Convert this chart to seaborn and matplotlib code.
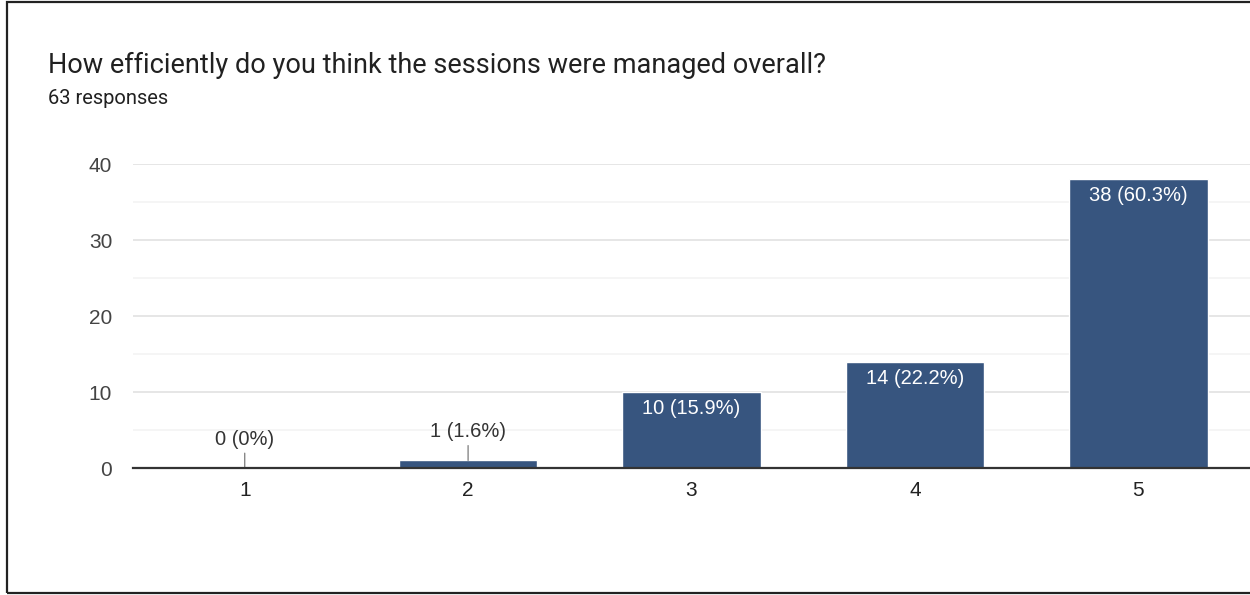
import matplotlib
matplotlib.use('Agg')
import matplotlib.pyplot as plt
import seaborn as sns
import pandas as pd
from matplotlib.patches import Rectangle
from matplotlib.ticker import MultipleLocator

# dados
categorias = ['1', '2', '3', '4', '5']
respostas = [0, 1, 10, 14, 38]
rotulos = ['0 (0%)', '1 (1.6%)', '10 (15.9%)', '14 (22.2%)', '38 (60.3%)']
titulo = 'How efficiently do you think the sessions were managed overall?'
subtitulo = '63 responses'

cor_barra = '#37557f'
cor_texto = '#212121'

sns.set_theme(style='white')
plt.rcParams['font.family'] = ['Liberation Sans', 'DejaVu Sans']

df = pd.DataFrame({'nota': categorias, 'respostas': respostas})

fig = plt.figure(figsize=(12.5, 5.95), dpi=100)
ax = fig.add_axes([133 / 1250, 127 / 595, 1 - 133 / 1250, 304 / 595])

sns.barplot(data=df, x='nota', y='respostas', color=cor_barra, saturation=1,
            width=0.62, ax=ax)

ax.set_xlim(-0.5, 4.5)
ax.set_ylim(0, 40)
ax.yaxis.set_major_locator(MultipleLocator(10))
ax.yaxis.set_minor_locator(MultipleLocator(5))
ax.grid(True, which='major', axis='y', color='#e6e6e6', linewidth=1.4)
ax.grid(True, which='minor', axis='y', color='#f3f3f3', linewidth=1.2)
ax.set_axisbelow(True)

for lado in ['left', 'right', 'top']:
    ax.spines[lado].set_visible(False)
ax.spines['bottom'].set_color('#333333')
ax.spines['bottom'].set_linewidth(1.6)
ax.spines['bottom'].set_zorder(5)

ax.tick_params(axis='both', length=0, labelsize=15, colors='#444444')
ax.tick_params(axis='y', pad=15)
ax.tick_params(axis='x', pad=9, labelcolor='#222222')
ax.set_xlabel('')
ax.set_ylabel('')

# rótulos das barras: dentro (branco) ou acima com linha guia
for barra, valor, texto in zip(ax.patches, respostas, rotulos):
    cx = barra.get_x() + barra.get_width() / 2
    topo = barra.get_height()
    if valor >= 5:
        ax.annotate(texto, (cx, topo), xytext=(0, -5), textcoords='offset points',
                    ha='center', va='top', color='white', fontsize=14.5)
    else:
        ax.annotate(texto, (cx, topo), xytext=(0, 14), textcoords='offset points',
                    ha='center', va='bottom', color='#333333', fontsize=14.5,
                    arrowprops=dict(arrowstyle='-', color='#888888', lw=1,
                                    shrinkA=1, shrinkB=0))

fig.text(48 / 1250, 1 - 65 / 595, titulo, fontsize=19.5, color=cor_texto,
         family=['Roboto', 'DejaVu Sans'], va='center', ha='left')
fig.text(48 / 1250, 1 - 99 / 595, subtitulo, fontsize=14.5, color=cor_texto,
         family=['Roboto', 'DejaVu Sans'], va='center', ha='left')

# moldura preta da captura de tela
fig.patches.append(Rectangle((7 / 1250, 2 / 595), 1.2, 1 - 4 / 595,
                             transform=fig.transFigure, fill=False,
                             edgecolor='#222222', linewidth=1.6, clip_on=False))

fig.savefig('out.png', dpi=100)
plt.close(fig)
